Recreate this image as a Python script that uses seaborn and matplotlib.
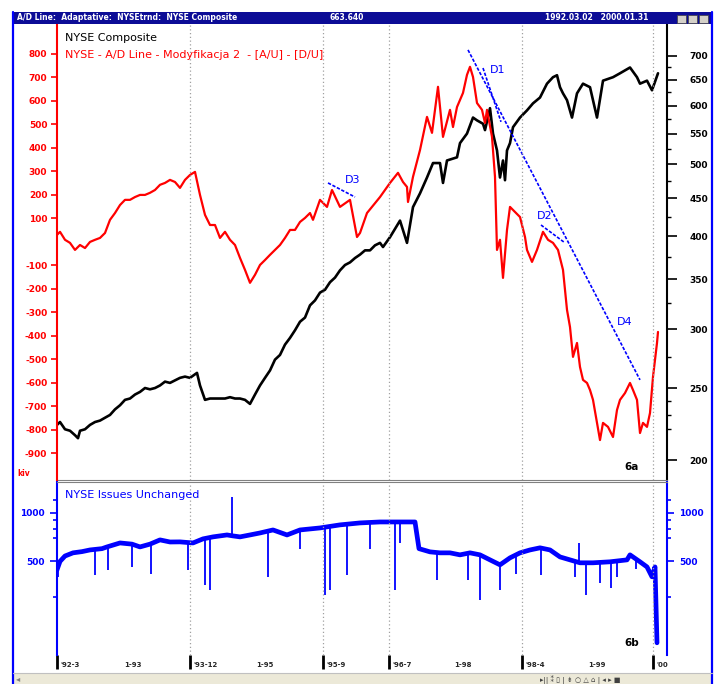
import numpy as np
import pandas as pd
import matplotlib.pyplot as plt
import seaborn as sns
from matplotlib.patches import Rectangle
from matplotlib.lines import Line2D
from matplotlib.ticker import NullFormatter

sns.set_style("white")
plt.rcParams['font.family'] = ['DejaVu Sans']

W, H = 724, 684

# --- data (bar index) ---
ad_bar = [0, 3, 8, 13, 18, 23, 28, 33, 38, 43, 48, 53, 58, 63, 68, 73, 78, 83, 88, 93,
          98, 103, 108, 113, 118, 123, 128, 133, 138, 143, 148, 153, 158, 163, 168, 173,
          178, 183, 188, 193, 198, 203, 208, 213, 218, 223, 228, 233, 238, 243, 248, 253,
          256, 263, 270, 275, 283, 293, 300, 303, 310, 323, 333, 341, 346, 350, 351, 356,
          363, 370, 375, 381, 386, 393, 396, 400, 406, 410, 413, 416, 420, 425, 428, 430,
          435, 438, 440, 443, 446, 450, 453, 456, 463, 468, 470, 475, 480, 486, 491, 496,
          501, 506, 510, 513, 516, 520, 523, 526, 530, 533, 536, 540, 543, 546, 551, 556,
          560, 563, 568, 573, 576, 580, 583, 586, 590, 593, 596, 600, 601]
ad_line = [30, 43, 9, -4, -34, -13, -26, 0, 9, 17, 38, 94, 123, 157, 179, 179, 191, 200, 200, 209,
           221, 243, 251, 264, 255, 230, 264, 285, 298, 200, 115, 72, 72, 17, 43, 9,
           -13, -68, -119, -174, -140, -98, -77, -55, -34, -13, 17, 51, 51, 85, 102, 123,
           94, 179, 149, 221, 149, 179, 21, 38, 123, 191, 251, 294, 255, 234, 170, 277,
           391, 532, 464, 660, 447, 562, 489, 574, 634, 711, 745, 702, 591, 562, 506, 562,
           447, 277, -34, 9, -153, 51, 149, 136, 106, 21, -34, -85, -34, 43, 9, -4,
           -34, -119, -289, -362, -489, -430, -532, -587, -600, -630, -672, -770, -843, -770, -787, -830,
           -715, -672, -643, -600, -630, -672, -813, -770, -787, -728, -574, -430, -383]

nyse_bar = [0, 3, 8, 13, 18, 21, 23, 28, 33, 38, 43, 48, 53, 58, 63, 68, 73, 78, 83, 88,
            93, 98, 103, 108, 113, 118, 123, 128, 133, 140, 143, 148, 153, 158, 163, 168,
            173, 178, 183, 188, 193, 198, 203, 208, 213, 218, 223, 228, 233, 238, 243, 248,
            253, 258, 263, 268, 273, 278, 283, 288, 293, 298, 303, 308, 313, 318, 323, 326,
            333, 343, 350, 356, 363, 370, 376, 383, 386, 390, 400, 403, 410, 416, 420, 426,
            428, 433, 436, 440, 443, 446, 448, 450, 453, 456, 463, 470, 476, 483, 490, 496,
            500, 503, 506, 510, 515, 520, 526, 533, 540, 546, 556, 563, 573, 580, 583, 590,
            595, 601]
nyse_comp = [223, 225, 220, 219, 216, 214, 219, 220, 223, 225, 226, 228, 230, 234, 237, 241, 242, 245, 247, 250,
             249, 250, 252, 255, 254, 256, 258, 259, 258, 262, 252, 241, 242, 242, 242, 242,
             243, 242, 242, 241, 238, 245, 252, 258, 264, 273, 277, 286, 292, 299, 307, 311,
             323, 328, 336, 339, 347, 352, 360, 366, 369, 374, 378, 383, 383, 389, 392, 387,
             399, 420, 392, 438, 457, 480, 502, 502, 472, 506, 511, 534, 550, 578, 573, 567,
             556, 595, 550, 522, 480, 506, 476, 522, 534, 561, 578, 591, 604, 615, 642, 655,
             659, 635, 623, 610, 578, 623, 642, 635, 578, 648, 655, 663, 675, 655, 642, 648,
             629, 663]

unch_bar = [0, 3, 8, 16, 25, 33, 45, 50, 63, 75, 83, 93, 103, 113, 123, 136, 146, 156, 170, 176,
            183, 193, 203, 216, 230, 243, 263, 283, 303, 323, 343, 358, 362, 373, 383, 393, 403, 413,
            423, 433, 443, 453, 463, 473, 483, 493, 503, 513, 523, 536, 553, 570, 573, 583, 590,
            595, 598, 600]
unch = [443, 500, 540, 565, 575, 589, 600, 615, 651, 640, 615, 640, 680, 660, 661, 651, 690, 710, 730, 720,
        710, 730, 751, 784, 730, 784, 807, 843, 867, 879, 879, 879, 600, 573, 565, 565, 549, 565,
        549, 511, 476, 526, 565, 589, 607, 589, 533, 511, 490, 490, 497, 511, 549, 497, 462,
        401, 462, 156]
spike_bar = [1, 38, 51, 75, 94, 131, 148, 153, 175, 211, 243, 268, 273, 290, 313, 338, 343,
             380, 411, 423, 443, 459, 484, 518, 522, 529, 543, 554, 560, 579]
spike_val = [401, 412, 443, 462, 420, 443, 357, 333, 1257, 401, 600, 310, 333, 412, 600, 333, 650,
             384, 384, 289, 333, 420, 412, 401, 651, 310, 368, 343, 401, 450]

# trend lines drawn on the A/D scale: (bar0, val0, bar1, val1)
trend_names = ['D1', 'D1b', 'D2', 'D3']
trend_bar0 = [411, 426, 484, 271]
trend_val0 = [817, 740, 72, 251]
trend_bar1 = [583, 444, 508, 298]
trend_val1 = [-587, 511, -4, 191]

date_major = [0, 133, 266, 332, 465, 596]
date_major_lab = ["'92-3", "'93-12", "'95-9", "'96-7", "'98-4", "'00"]
date_minor = [76, 208, 406, 540]
date_minor_lab = ["1-93", "1-95", "1-98", "1-99"]

ad_ticks = [800, 700, 600, 500, 400, 300, 200, 100, -100, -200, -300, -400, -500, -600, -700, -800, -900]
nyse_ticks = [200, 250, 300, 350, 400, 450, 500, 550, 600, 650, 700]
unch_ticks = [500, 1000]

RED, BLUE = '#ff0000', '#0000ff'


def box(x0, y0, x1, y1):
    return [x0 / W, 1 - y1 / H, (x1 - x0) / W, (y1 - y0) / H]


fig = plt.figure(figsize=(W / 100, H / 100), dpi=100)

# window chrome
fig.add_artist(Rectangle((13 / W, 1 - 24 / H), 699 / W, 12 / H, transform=fig.transFigure,
                         facecolor='#0c0c96', edgecolor='none'))
fig.add_artist(Rectangle((13 / W, 0), 699 / W, 11 / H, transform=fig.transFigure,
                         facecolor='#ece9d8', edgecolor='#b0b0b0', lw=0.6))
for bx in [677, 688, 699]:
    fig.add_artist(Rectangle((bx / W, 1 - 22.5 / H), 9 / W, 8 / H, transform=fig.transFigure,
                             facecolor='#d4d0c8', edgecolor='#404040', lw=0.5))
for lx in [13, 712]:
    fig.add_artist(Line2D([lx / W, lx / W], [0, 1 - 12 / H], transform=fig.transFigure,
                          color=BLUE, lw=1.6))
fig.text(17 / W, 1 - 18 / H, "A/D Line:  Adaptative:  NYSEtrnd:  NYSE Composite", color='white',
         fontsize=5.5, fontweight='bold', va='center')
fig.text(330 / W, 1 - 18 / H, "663.640", color='white', fontsize=5.5, fontweight='bold', va='center')
fig.text(545 / W, 1 - 18 / H, "1992.03.02   2000.01.31", color='white', fontsize=5.5,
         fontweight='bold', va='center')
fig.text(16 / W, 1 - 679 / H, "◂", color='#808080', fontsize=6, va='center')
fig.text(540 / W, 1 - 679 / H, "▸|| ⁑ ▯ | ⇟ ○ △ ⌂ | ◂ ▸ ■", color='#404040', fontsize=5, va='center')

# ---------- top panel ----------
ax_l = fig.add_axes(box(57, 25, 667, 480))
ax_r = ax_l.twinx()
ax_l.set_zorder(ax_r.get_zorder() + 1)
ax_l.patch.set_visible(False)

sns.lineplot(x=nyse_bar, y=nyse_comp, ax=ax_r, color='black', lw=1.9, estimator=None)
sns.lineplot(x=ad_bar, y=ad_line, ax=ax_l, color=RED, lw=1.6, estimator=None)

for b0, v0, b1, v1 in zip(trend_bar0, trend_val0, trend_bar1, trend_val1):
    ax_l.plot([b0, b1], [v0, v1], color=BLUE, lw=1.2, ls=(0, (2, 1)))

ax_l.set_xlim(0, 610)
ax_l.set_ylim(-1013, 923)
ax_r.set_yscale('log')
ax_r.set_ylim(188, 770)

ax_l.set_yticks(ad_ticks)
ax_l.set_yticklabels([str(t) for t in ad_ticks])
ax_l.tick_params(axis='y', colors=RED, labelsize=6.5, length=4, width=1.2, direction='out', pad=3)
for lab in ax_l.get_yticklabels():
    lab.set_fontweight('bold')
ax_l.set_xticks([])
ax_r.set_xticks([])

ax_r.set_yticks(nyse_ticks)
ax_r.set_yticklabels([str(t) for t in nyse_ticks])
ax_r.set_yticks([220, 230, 240, 275, 325, 375, 425, 475, 525, 575, 625, 675], minor=True)
ax_r.yaxis.set_minor_formatter(NullFormatter())
ax_r.tick_params(axis='y', which='major', colors='black', labelsize=6.5, length=7, width=1.2, pad=9)
ax_r.tick_params(axis='y', which='minor', colors='black', length=3, width=1)
for lab in ax_r.get_yticklabels():
    lab.set_fontweight('bold')

for sp in ax_l.spines.values():
    sp.set_visible(False)
ax_l.spines['left'].set_visible(True)
ax_l.spines['left'].set_color(RED)
ax_l.spines['left'].set_linewidth(1.5)
for name, sp in ax_r.spines.items():
    sp.set_visible(name in ('right', 'bottom'))
ax_r.spines['right'].set_color('black')
ax_r.spines['right'].set_linewidth(1.5)
ax_r.spines['bottom'].set_color('#808080')
ax_r.set_ylabel('')
ax_l.set_ylabel('')

for xm in date_major[1:]:
    ax_l.axvline(xm, color='#a0a0a0', ls=(0, (1, 2)), lw=0.9)

ax_l.text(8, 868, "NYSE Composite", color='black', fontsize=8, va='center')
ax_l.text(8, 795, "NYSE - A/D Line - Modyfikacja 2  - [A/U] - [D/U]", color=RED, fontsize=8, va='center')
ax_l.text(441, 732, "D1", color=BLUE, fontsize=8, ha='center', va='center')
ax_l.text(296, 264, "D3", color=BLUE, fontsize=8, ha='center', va='center')
ax_l.text(488, 111, "D2", color=BLUE, fontsize=8, ha='center', va='center')
ax_l.text(568, -340, "D4", color=BLUE, fontsize=8, ha='center', va='center')
ax_l.text(575, -957, "6a", color='black', fontsize=7.5, fontweight='bold', ha='center', va='center')
fig.text(17 / W, 1 - 473 / H, "kiv", color=RED, fontsize=5.5, fontweight='bold', va='center')

# ---------- bottom panel ----------
ax_b = fig.add_axes(box(57, 482, 667, 655))
sns.lineplot(x=unch_bar, y=unch, ax=ax_b, color=BLUE, lw=3.4, estimator=None)
base = np.interp(spike_bar, unch_bar, unch)
ax_b.vlines(spike_bar, base, spike_val, color=BLUE, lw=1.3)
ax_b.set_yscale('log')
ax_b.set_ylim(131, 1557)
ax_b.set_xlim(0, 610)
ax_b.set_yticks(unch_ticks)
ax_b.set_yticklabels([str(t) for t in unch_ticks])
ax_b.set_yticks([300, 700, 800, 900, 1200], minor=True)
ax_b.yaxis.set_minor_formatter(NullFormatter())
ax_b.tick_params(axis='y', which='both', colors=BLUE, left=True, right=True,
                 labelleft=True, labelright=True, labelsize=6.5, length=5, width=1.2, pad=4)
ax_b.tick_params(axis='y', which='minor', length=3)
for lab in ax_b.get_yticklabels():
    lab.set_fontweight('bold')
for name, sp in ax_b.spines.items():
    sp.set_visible(name in ('left', 'right', 'top'))
ax_b.spines['left'].set_color(BLUE)
ax_b.spines['right'].set_color(BLUE)
ax_b.spines['left'].set_linewidth(1.5)
ax_b.spines['right'].set_linewidth(1.5)
ax_b.spines['top'].set_color('#808080')
ax_b.set_ylabel('')

for xm in date_major[1:]:
    ax_b.axvline(xm, color='#a0a0a0', ls=(0, (1, 2)), lw=0.9)

ax_b.text(8, 1290, "NYSE Issues Unchanged", color=BLUE, fontsize=8, va='center')
ax_b.text(575, 156, "6b", color='black', fontsize=7.5, fontweight='bold', ha='center', va='center')

ax_b.set_xticks(date_major)
ax_b.set_xticklabels([''] * len(date_major))
ax_b.tick_params(axis='x', colors='black', length=10, width=2, direction='out', bottom=True)
trans = ax_b.get_xaxis_transform()
for xm, lab in zip(date_major, date_major_lab):
    ax_b.text(xm + 3, -0.055, lab, transform=trans, fontsize=5, fontweight='bold', va='center')
for xm, lab in zip(date_minor, date_minor_lab):
    ax_b.text(xm, -0.055, lab, transform=trans, fontsize=5, fontweight='bold', ha='center', va='center')

fig.add_artist(Line2D([13 / W, 712 / W], [11 / H, 11 / H], transform=fig.transFigure,
                      color='#c0c0c0', lw=0.8))

fig.savefig('out.png', dpi=100)
